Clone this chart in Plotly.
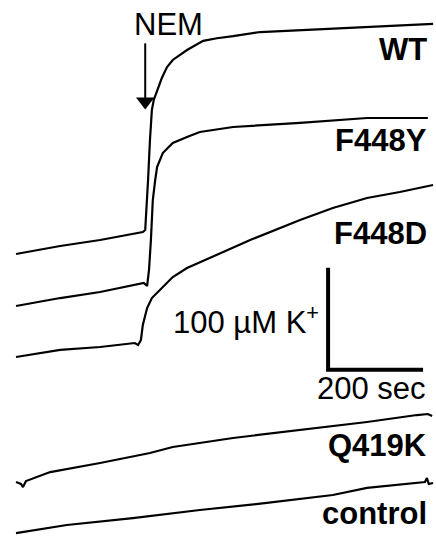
import plotly.graph_objects as go

# time (s) and K+ signal (uM, with stacking offsets)
wt_t = [0, 93, 177, 267, 272, 276, 278, 282, 286, 290, 297, 307, 318, 330, 360, 394, 423, 457, 514, 598, 703, 773, 878]
wt_v = [276.5, 284.3, 290.2, 298, 300, 329.4, 349, 388.2, 417.6, 427.5, 437.3, 449, 459.8, 466.7, 476.5, 485.5, 488, 490, 494.1, 496, 498, 500, 502]

y_t = [0, 93, 177, 269, 276, 280, 284, 288, 293, 297, 309, 330, 360, 387, 457, 528, 598, 739, 867]
y_v = [225.5, 233.3, 239.2, 248, 245.1, 260.8, 290.2, 329.4, 349, 361.8, 375.5, 385.3, 391.2, 396.1, 401, 403, 405, 409.8, 409.8]

d_t = [0, 93, 177, 250, 257, 263, 267, 276, 286, 303, 330, 360, 423, 493, 598, 667, 739, 808, 878]
d_v = [175.5, 182.4, 185.3, 189.2, 187.3, 192.2, 206.9, 223.5, 233.3, 241.2, 253.9, 262.7, 275.5, 290.2, 309.8, 321.6, 331.4, 337.3, 344.1]

q_t = [0, 10.5, 14.7, 21, 72, 177, 282, 330, 457, 598, 739, 844, 867, 876]
q_v = [52.9, 51, 48, 53.9, 62.7, 71.6, 81.4, 87.3, 96.1, 103.9, 111.8, 118.6, 119.6, 117.6]

c_t = [0, 107, 246, 387, 528, 667, 739, 808, 861, 865, 869, 878]
c_v = [2.9, 10.8, 17.6, 25.5, 32.4, 40.2, 47.1, 50, 52.9, 56.9, 51, 52]

labels = ["WT", "F448Y", "F448D", "Q419K", "control"]
label_v = [476.5, 388, 297, 89, 22.5]
series = [(wt_t, wt_v), (y_t, y_v), (d_t, d_v), (q_t, q_v), (c_t, c_v)]

nem_t = 272
nem_arrow_v = [483, 428]
nem_tip_v = 426
scale_t0, scale_v0 = 657, 163
scale_dt, scale_dv = 200, 100

fig = go.Figure()
for (t, v) in series:
    fig.add_trace(go.Scatter(x=t, y=v, mode="lines",
                             line=dict(color="black", width=2.2), hoverinfo="skip"))

# scale bar
fig.add_trace(go.Scatter(x=[scale_t0, scale_t0, scale_t0 + scale_dt],
                         y=[scale_v0 + scale_dv, scale_v0, scale_v0],
                         mode="lines", line=dict(color="black", width=4), hoverinfo="skip"))

# NEM arrow
fig.add_trace(go.Scatter(x=[nem_t, nem_t], y=nem_arrow_v, mode="lines",
                         line=dict(color="black", width=2), hoverinfo="skip"))
fig.add_trace(go.Scatter(x=[nem_t], y=[nem_tip_v], mode="markers",
                         marker=dict(symbol="triangle-down", size=16, color="black",
                                     line=dict(width=0)), hoverinfo="skip"))

for lab, lv in zip(labels, label_v):
    fig.add_annotation(x=869, y=lv, text="<b>%s</b>" % lab, showarrow=False,
                       xanchor="right", yanchor="middle",
                       font=dict(family="Liberation Sans", size=31, color="black"))

fig.add_annotation(x=642, y=212, text="100 µM K<sup>+</sup>", showarrow=False,
                   xanchor="right", yanchor="middle",
                   font=dict(family="Liberation Sans", size=31, color="black"))
fig.add_annotation(x=748, y=145, text="200 sec", showarrow=False,
                   xanchor="center", yanchor="middle",
                   font=dict(family="Liberation Sans", size=31, color="black"))
fig.add_annotation(x=322, y=501, text="NEM", showarrow=False,
                   xanchor="center", yanchor="middle",
                   font=dict(family="Liberation Sans", size=31, color="black"))

fig.update_layout(
    width=436, height=536,
    margin=dict(l=0, r=0, t=0, b=0),
    paper_bgcolor="white", plot_bgcolor="white",
    showlegend=False,
    xaxis=dict(range=[-33.7, 884.2], visible=False, fixedrange=True),
    yaxis=dict(range=[0, 525.5], visible=False, fixedrange=True),
)
fig.write_html("out.html")
